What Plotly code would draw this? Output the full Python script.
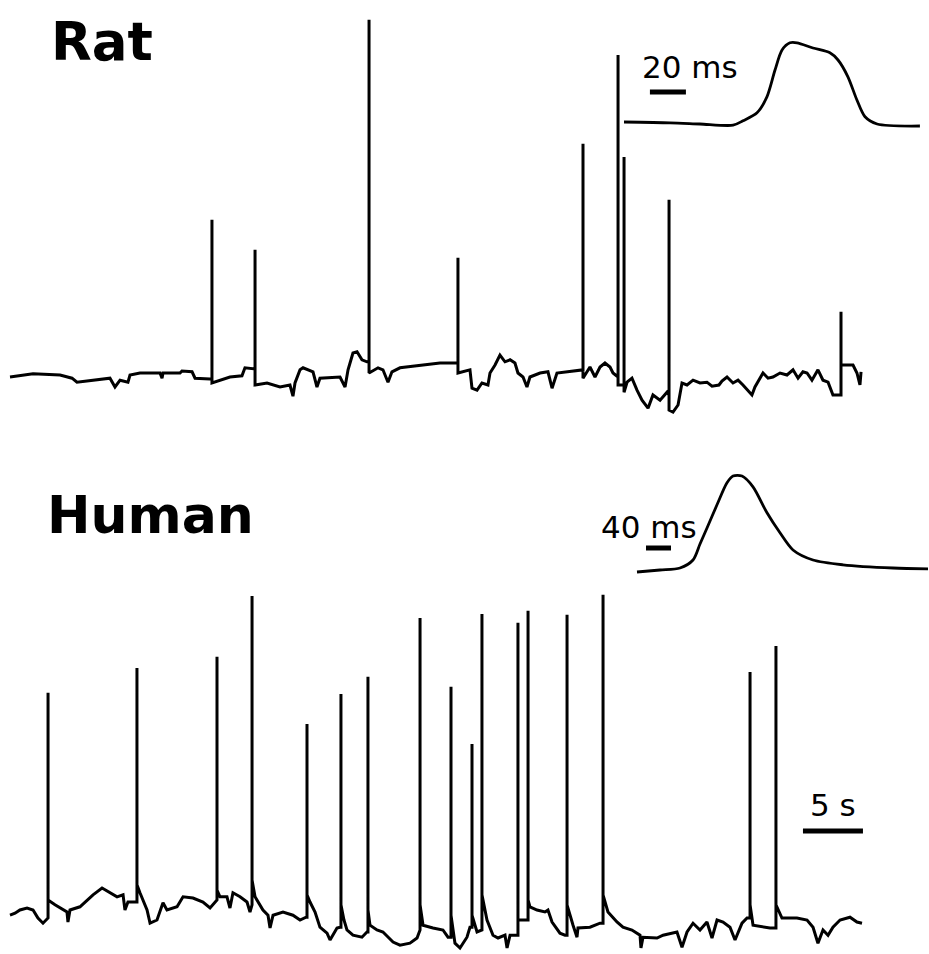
import plotly.graph_objects as go

W, H = 929, 954

# ---------------- Rat: whole-cell recording (s, mV relative to rest) ----------------
rat_base_t = [0.00, 1.92, 4.17, 5.17, 5.58, 6.92, 8.33, 8.75, 9.17, 9.83, 10.00, 10.83,
              12.50, 12.67, 12.75, 14.17, 14.33, 15.17, 15.42, 16.67, 18.33, 19.33,
              19.58, 20.17, 21.42, 22.50, 23.33, 23.58, 23.75, 24.17, 24.42, 25.25,
              25.58, 25.83, 27.50, 27.92, 28.17, 28.58, 28.92, 29.33, 29.75, 30.67,
              31.08, 31.50, 31.83, 32.50, 33.92, 35.83, 37.08, 38.33, 38.50, 38.92,
              39.33, 39.83, 40.00, 40.42, 40.83, 41.25, 41.67, 42.08, 42.33, 42.75,
              43.08, 43.33, 44.17, 44.83, 45.17, 45.58, 46.92, 47.50, 48.33, 48.75,
              49.17, 49.58, 50.00, 50.25, 51.42, 51.83, 52.25, 52.67, 53.17, 53.58,
              54.17, 54.75, 55.25, 55.67, 56.00, 56.42, 56.92, 57.50, 58.08, 58.50,
              59.08, 59.33, 59.75, 60.25, 60.67, 61.08, 61.83, 62.08, 62.75, 63.17,
              63.58, 64.17, 64.75, 65.25, 65.67, 66.08, 66.42, 66.83, 67.33, 67.75,
              68.17, 68.58, 69.00, 69.58, 70.25, 70.58, 70.83, 70.92]
rat_base_v = [0.0, 0.8, 0.5, -0.3, -1.3, -0.8, -0.3, -2.5, -0.8, -1.3, 0.5, 1.0,
              1.0, -0.3, 1.0, 1.0, 1.5, 1.3, -0.3, -0.5, 0.0, 0.3,
              2.3, 2.0, -1.5, -2.5, -2.0, -4.8, -1.5, 1.8, 2.3, 1.3,
              -2.5, -0.3, 0.0, -2.5, 1.8, 6.0, 6.3, 4.3, 3.8, 2.3,
              1.8, -1.3, 1.3, 2.3, 2.8, 3.5, 3.5, 1.8, -2.8, -3.3,
              -1.5, -2.0, 1.0, 3.0, 5.5, 3.8, 4.3, 3.5, 1.0, 0.0,
              -2.5, 0.0, 1.0, 1.3, -2.8, 1.0, 1.5, 1.8, 2.5, 0.0,
              2.5, 3.5, 2.5, 1.0, -1.3, -0.3, -3.3, -5.8, -7.8, -4.5,
              -5.8, -3.8, -8.8, -7.0, -1.5, -2.0, -0.8, -1.5, -1.3, -2.3,
              -2.0, -1.0, 0.0, -1.5, -0.8, -2.0, -4.5, -2.5, 1.0, -0.3,
              0.0, 1.0, 0.5, 1.8, -0.3, 1.3, 1.0, -0.8, 1.8, -0.8,
              -1.3, -4.5, -4.5, 3.0, 3.0, 1.0, -2.0, 1.3]

rat_spike_t = [16.83, 20.42, 29.92, 37.33, 47.75, 50.67, 51.17, 54.92, 69.25]
rat_spike_pre = [-0.5, 2.0, 3.8, 3.5, 1.8, 0.0, -2.0, -4.5, -4.5]
rat_spike_peak = [39.3, 31.8, 89.3, 29.8, 58.3, 80.5, 55.0, 44.3, 16.3]
rat_spike_post = [-1.5, -2.0, 1.0, 1.0, -0.3, -2.0, -3.8, -8.3, 3.0]

# ---------------- Human: whole-cell recording (s, mV relative to rest) ----------------
hum_base_t = [0.00, 0.42, 0.83, 1.42, 1.92, 2.33, 2.75, 3.75, 4.17, 4.75, 4.83, 5.00,
              5.83, 6.42, 6.92, 7.67, 8.33, 8.92, 9.42, 9.58, 9.83, 10.42, 10.83,
              11.17, 11.42, 11.67, 12.25, 12.75, 13.08, 13.92, 14.42, 15.25, 16.08,
              16.67, 17.50, 18.08, 18.33, 18.58, 19.17, 19.75, 20.00, 20.42, 21.08,
              21.50, 21.67, 21.92, 22.75, 23.58, 24.17, 24.67, 25.00, 25.42, 25.83,
              26.42, 26.67, 27.25, 27.50, 27.83, 28.08, 28.58, 29.33, 29.75, 30.00,
              30.58, 31.08, 31.92, 32.50, 33.33, 33.92, 34.42, 35.25, 36.08, 36.50,
              37.08, 37.50, 38.08, 38.33, 38.92, 39.25, 39.75, 40.25, 40.67, 41.25,
              41.42, 41.67, 42.17, 42.67, 43.00, 43.33, 43.92, 44.58, 44.83, 45.17,
              45.83, 46.25, 46.92, 47.25, 47.33, 48.33, 49.17, 49.83, 50.58, 51.08,
              51.83, 52.50, 52.58, 52.75, 53.92, 54.42, 55.58, 56.00, 56.42, 56.92,
              57.50, 58.08, 58.50, 58.92, 59.42, 60.00, 60.42, 61.00, 61.42, 61.92,
              62.75, 63.33, 64.33, 65.58, 66.42, 66.92, 67.33, 67.75, 68.17, 68.58,
              69.17, 70.00, 70.58, 71.00]
hum_base_v = [-1.3, -0.8, 0.0, 0.5, 0.0, -2.0, -3.3, 1.3, 0.5, -0.5, -3.0, 0.0,
              0.8, 2.5, 3.8, 5.5, 4.3, 3.3, 3.8, 0.0, 2.0, 2.0, 4.3,
              1.8, 0.0, -3.3, -2.5, 1.8, 0.0, 0.8, 3.3, 3.0, 2.0,
              0.5, 3.3, 3.3, 0.5, 4.3, 3.3, 2.0, -0.5, 3.3, 0.0,
              -1.3, -4.5, -1.3, -0.5, -1.3, -2.5, -1.8, 2.0, -0.5, -4.3,
              -5.8, -7.5, -4.5, -4.3, -2.5, -5.0, -6.3, -6.8, -5.5, -3.8,
              -5.0, -5.5, -8.0, -8.8, -8.3, -7.0, -3.8, -4.5, -5.0, -6.8,
              -8.3, -9.5, -6.8, -4.3, -5.5, -5.0, -2.5, -6.3, -7.0, -6.3,
              -9.5, -6.3, -6.3, -2.5, -2.5, 0.8, 0.0, -0.5, 0.0, -3.0,
              -5.8, -6.3, -3.8, -6.8, -4.5, -4.3, -3.3, -0.5, -3.0, -4.3,
              -5.0, -6.3, -9.5, -6.8, -7.0, -6.3, -5.5, -9.3, -5.5, -3.3,
              -5.0, -3.0, -7.0, -2.5, -3.0, -4.3, -7.5, -3.3, -2.0, -3.8,
              -4.3, -4.5, -2.0, -2.0, -2.5, -4.3, -8.3, -5.0, -6.3, -4.3,
              -2.5, -1.8, -3.0, -3.3]

hum_spike_t = [3.17, 10.58, 17.25, 20.17, 24.75, 27.58, 29.83, 34.17, 36.75, 38.50,
               39.33, 42.33, 43.17, 46.42, 49.42, 61.67, 63.83]
hum_spike_pre = [-2.0, 2.0, 2.5, 1.3, -1.8, -4.3, -5.5, -5.0, -6.8, -4.3,
                 -5.0, -6.3, -2.5, -6.3, -3.3, -2.0, -4.5]
hum_spike_peak = [54.3, 60.5, 63.3, 78.5, 46.5, 54.0, 58.3, 73.0, 55.8, 41.5,
                  74.0, 71.8, 74.8, 73.8, 78.8, 59.5, 66.0]
hum_spike_post = [2.5, 6.3, 5.0, 7.5, 3.8, 1.3, 0.0, 1.3, -1.3, -1.3,
                  3.8, -2.5, 2.5, 1.3, 3.8, 1.3, 1.3]

# ---------------- Expanded single events (ms, mV) ----------------
rat_event_t = [0.0, 25.6, 42.2, 60.6, 66.1, 73.9, 79.4, 83.9, 87.8, 92.2, 96.1,
               105.0, 114.4, 118.9, 124.4, 129.4, 133.9, 140.6, 164.4]
rat_event_v = [0.5, 0.3, 0.0, -0.3, 0.8, 2.8, 6.8, 13.5, 18.5, 20.3, 20.3,
               19.0, 17.8, 16.0, 11.8, 6.0, 1.8, 0.0, -0.5]

hum_event_t = [0.0, 36.8, 68.8, 89.6, 100.8, 112.0, 128.0, 144.0, 153.6, 168.0,
               185.6, 208.0, 228.8, 249.6, 281.6, 329.6, 409.6, 465.6]
hum_event_v = [-0.5, 0.0, 0.5, 2.5, 6.5, 10.5, 16.3, 21.8, 23.5, 23.5,
               20.8, 14.3, 9.3, 5.0, 2.5, 1.3, 0.5, 0.3]

# Scale bars
rat_event_bar_ms = 20
hum_event_bar_ms = 40
trace_bar_s = 5


def merge(base_t, base_v, sp_t, sp_pre, sp_peak, sp_post):
    """Insert each spike as a vertical stroke (pre -> peak -> post) into the baseline."""
    pts = [(t, 0, v) for t, v in zip(base_t, base_v)]
    for t, a, b, c in zip(sp_t, sp_pre, sp_peak, sp_post):
        pts += [(t, 1, a), (t, 2, b), (t, 3, c)]
    pts.sort(key=lambda p: (p[0], p[1]))
    return [p[0] for p in pts], [p[2] for p in pts]


def lin_range(origin_px, px_per_unit, size_px, flip=False):
    """Axis range so that value 0 sits at origin_px with the given pixel scale."""
    if flip:  # vertical axis: pixel grows downward
        return [(origin_px - size_px) / px_per_unit, origin_px / px_per_unit]
    return [-origin_px / px_per_unit, (size_px - origin_px) / px_per_unit]


PX_PER_S = 12.0
PX_PER_MV = 4.0
RAT_EVT_PX_PER_MS = 1.8
HUM_EVT_PX_PER_MS = 0.625

rx, ry = merge(rat_base_t, rat_base_v, rat_spike_t, rat_spike_pre, rat_spike_peak, rat_spike_post)
hx, hy = merge(hum_base_t, hum_base_v, hum_spike_t, hum_spike_pre, hum_spike_peak, hum_spike_post)

line = dict(color="black", width=3)
fig = go.Figure()
fig.add_trace(go.Scatter(x=rx, y=ry, mode="lines", line=line, xaxis="x", yaxis="y"))
fig.add_trace(go.Scatter(x=hx, y=hy, mode="lines", line=line, xaxis="x", yaxis="y2"))
fig.add_trace(go.Scatter(x=rat_event_t, y=rat_event_v, mode="lines",
                         line=dict(color="black", width=2.8, shape="spline", smoothing=0.8),
                         xaxis="x3", yaxis="y3"))
fig.add_trace(go.Scatter(x=hum_event_t, y=hum_event_v, mode="lines",
                         line=dict(color="black", width=2.8, shape="spline", smoothing=0.8),
                         xaxis="x4", yaxis="y4"))

# scale bars
bar = dict(color="black", width=5)
rb0 = 14.4
fig.add_trace(go.Scatter(x=[rb0, rb0 + rat_event_bar_ms], y=[8.0, 8.0], mode="lines",
                         line=bar, xaxis="x3", yaxis="y3"))
hb0 = 14.4
fig.add_trace(go.Scatter(x=[hb0, hb0 + hum_event_bar_ms], y=[5.5, 5.5], mode="lines",
                         line=bar, xaxis="x4", yaxis="y4"))
sb0 = 66.08
fig.add_trace(go.Scatter(x=[sb0, sb0 + trace_bar_s], y=[19.75, 19.75], mode="lines",
                         line=bar, xaxis="x", yaxis="y2"))

hidden = dict(visible=False, showgrid=False, zeroline=False, fixedrange=True)
fig.update_layout(
    width=W, height=H, margin=dict(l=0, r=0, t=0, b=0),
    paper_bgcolor="white", plot_bgcolor="white", showlegend=False,
    xaxis=dict(domain=[0, 1], range=lin_range(10, PX_PER_S, W), anchor="y", **hidden),
    yaxis=dict(domain=[0, 1], range=lin_range(377, PX_PER_MV, H, flip=True), anchor="x", **hidden),
    yaxis2=dict(domain=[0, 1], range=lin_range(910, PX_PER_MV, H, flip=True), anchor="x",
                overlaying="y", **hidden),
    xaxis3=dict(domain=[0, 1], range=lin_range(624, RAT_EVT_PX_PER_MS, W), anchor="y3",
                overlaying="x", **hidden),
    yaxis3=dict(domain=[0, 1], range=lin_range(124, PX_PER_MV, H, flip=True), anchor="x3",
                overlaying="y", **hidden),
    xaxis4=dict(domain=[0, 1], range=lin_range(637, HUM_EVT_PX_PER_MS, W), anchor="y4",
                overlaying="x", **hidden),
    yaxis4=dict(domain=[0, 1], range=lin_range(570, PX_PER_MV, H, flip=True), anchor="x4",
                overlaying="y", **hidden),
)


def label(text, px, py, size, bold=False):
    fig.add_annotation(
        text=f"<b>{text}</b>" if bold else text,
        x=px / W, y=1 - py / H, xref="paper", yref="paper",
        xanchor="left", yanchor="middle", showarrow=False,
        font=dict(family="DejaVu Sans", size=size, color="black"),
    )


label("Rat", 49, 41, 53, bold=True)
label("Human", 45, 515, 52, bold=True)
label("20 ms", 640, 67, 31)
label("40 ms", 599, 527, 31)
label("5 s", 808, 805, 31)

fig.write_html("out.html")
